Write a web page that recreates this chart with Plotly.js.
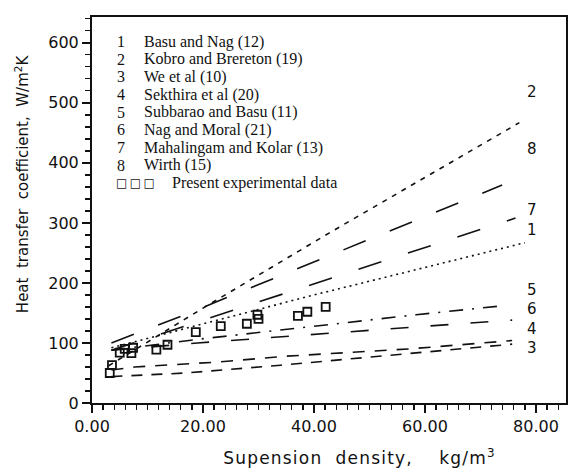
<!DOCTYPE html>
<html>
<head>
<meta charset="utf-8">
<script src="https://cdn.plot.ly/plotly-3.0.1.min.js"></script>
<style>html,body{margin:0;padding:0;background:#fff;}</style>
</head>
<body>
<div id="chart" style="width:574px;height:470px;"></div>
<script>
// Correlation curves
const line1X = [3.5, 40, 78];            const line1Y = [92, 180, 267];          // Basu and Nag
const line2X = [3, 20, 42.7, 77];        const line2Y = [62, 158, 283, 467];     // Kobro and Brereton
const line3X = [3.5, 17, 34, 57.7, 75.7]; const line3Y = [44, 50, 63, 83, 98];   // We et al
const line4X = [3.5, 7.7, 22.3, 35, 57, 75.7]; const line4Y = [55, 60, 68, 78, 90, 104]; // Sekthira et al
const line5X = [3.5, 19, 58.4, 74];      const line5Y = [88, 106, 147, 162];     // Subbarao and Basu
const line6X = [3.5, 19, 60.2, 75.7];    const line6Y = [88, 100, 128, 138];     // Nag and Moral
const line7X = [3.5, 37.7, 55, 76.3];    const line7Y = [88, 192, 244, 308];     // Mahalingam and Kolar
const line8X = [3.5, 17, 51.1, 73.9];    const line8Y = [100, 148, 277, 363];    // Wirth

// Present experimental data
const expX = [3.2, 3.6, 5.0, 5.9, 7.1, 7.4, 11.6, 13.6, 18.7, 23.2, 27.9, 29.8, 30.0, 37.1, 38.8, 42.1];
const expY = [50, 63, 84, 90, 83, 92, 89, 97, 118, 128, 132, 147, 140, 145, 152, 160];

const legendNums = ['1','2','3','4','5','6','7','8'];
const legendNames = ['Basu and Nag (12)','Kobro and Brereton (19)','We et al (10)','Sekthira et al (20)',
  'Subbarao and Basu (11)','Nag and Moral (21)','Mahalingam and Kolar (13)','Wirth (15)'];
const expLabel = 'Present experimental data';

const endLabels = ['2','8','7','1','5','6','4','3'];
const endLabelY = [518, 423, 322, 288, 188, 156, 123, 92];

const NB = '\u00A0';
const xTitle = 'Supension' + NB + ' density,' + NB + NB + NB + ' kg/m<sup>3</sup>';
const yTitle = 'Heat' + NB + ' transfer' + NB + ' coefficient,' + NB + ' W/m<sup>2</sup>K';

const lineStyles = [
  {x: line1X, y: line1Y, dash: '2px,4px'},
  {x: line2X, y: line2Y, dash: '5px,6px'},
  {x: line3X, y: line3Y, dash: '11px,9px'},
  {x: line4X, y: line4Y, dash: '12px,10px'},
  {x: line5X, y: line5Y, dash: '14px,9px,2px,9px'},
  {x: line6X, y: line6Y, dash: '18px,22px'},
  {x: line7X, y: line7Y, dash: '24px,28px'},
  {x: line8X, y: line8Y, dash: '24px,26px'}
];

const traces = lineStyles.map((s, i) => ({
  x: s.x, y: s.y, type: 'scatter', mode: 'lines', name: legendNames[i],
  line: {color: '#111', width: 1.6, dash: s.dash}, hoverinfo: 'skip'
}));
traces.push({
  x: expX, y: expY, type: 'scatter', mode: 'markers', name: expLabel,
  marker: {symbol: 'square-open', size: 8, color: '#111', line: {width: 1.8, color: '#111'}}
});

const serif = {family: 'Liberation Serif', size: 16, color: '#111'};
const annotations = [];
const rowY0 = 602, rowStep = 29.4;
legendNums.forEach((n, i) => {
  annotations.push({xref: 'x', yref: 'y', x: 5.2, y: rowY0 - i*rowStep, text: n, showarrow: false,
    xanchor: 'center', yanchor: 'middle', font: serif});
  annotations.push({xref: 'x', yref: 'y', x: 9.0, y: rowY0 - i*rowStep, text: legendNames[i], showarrow: false,
    xanchor: 'left', yanchor: 'middle', font: serif});
});
annotations.push({xref: 'x', yref: 'y', x: 4.0, y: rowY0 - 8*rowStep, text: '\u25A1\u2009\u25A1\u2009\u25A1', showarrow: false,
  xanchor: 'left', yanchor: 'middle', font: {family: 'DejaVu Sans', size: 12, color: '#111'}});
annotations.push({xref: 'x', yref: 'y', x: 14.0, y: rowY0 - 8*rowStep, text: expLabel, showarrow: false,
  xanchor: 'left', yanchor: 'middle', font: serif});

endLabels.forEach((t, i) => {
  annotations.push({xref: 'x', yref: 'y', x: 79.3, y: endLabelY[i], text: t, showarrow: false,
    xanchor: 'center', yanchor: 'middle', font: {family: 'DejaVu Sans', size: 15, color: '#111'}});
});

const xTitleIdx = annotations.length;
annotations.push({xref: 'x', yref: 'paper', x: 26.3, y: -0.14, text: xTitle, showarrow: false,
  xanchor: 'left', yanchor: 'middle', font: {family: 'DejaVu Sans', size: 17, color: '#111'}});
annotations.push({xref: 'paper', yref: 'y', x: -0.148, y: 366, text: yTitle, showarrow: false, textangle: -90,
  xanchor: 'center', yanchor: 'middle', font: {family: 'DejaVu Sans', size: 15, color: '#111'}});

const axisCommon = {
  showline: true, linewidth: 2, linecolor: '#111', mirror: true,
  ticks: 'outside', ticklen: 8, tickwidth: 1.5, tickcolor: '#111',
  showgrid: false, zeroline: false,
  tickfont: {family: 'DejaVu Sans', size: 16, color: '#111'}
};

const layout = {
  width: 574, height: 470,
  margin: {l: 92, r: 8, t: 17, b: 67},
  paper_bgcolor: '#fff', plot_bgcolor: '#fff',
  showlegend: false,
  xaxis: Object.assign({}, axisCommon, {
    range: [0, 85.4], dtick: 20, tick0: 0, tickformat: '.2f',
    minor: {dtick: 2, ticks: 'outside', ticklen: 5, tickwidth: 1.3, tickcolor: '#111', showgrid: false}
  }),
  yaxis: Object.assign({}, axisCommon, {
    range: [0, 643], dtick: 100, tick0: 0,
    minor: {dtick: 20, ticks: 'outside', ticklen: 5, tickwidth: 1.3, tickcolor: '#111', showgrid: false}
  }),
  annotations: annotations
};

Plotly.newPlot('chart', traces, layout, {displayModeBar: false, staticPlot: true}).then(() => {
  const anns = document.querySelectorAll('#chart .annotation');
  const t = anns[xTitleIdx] && anns[xTitleIdx].querySelector('text');
  if (t) t.style.letterSpacing = '1.2px';
});
</script>
</body>
</html>
